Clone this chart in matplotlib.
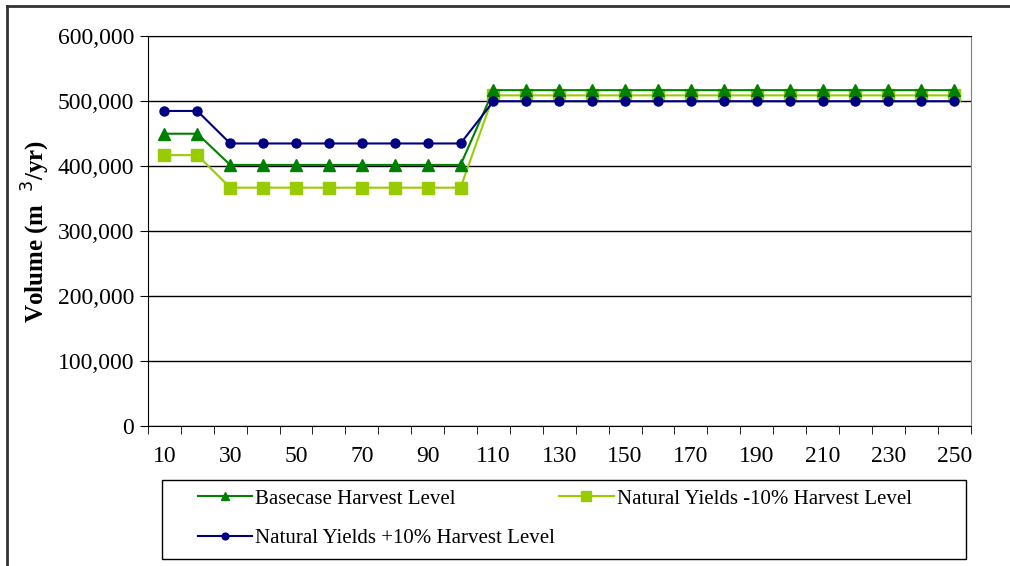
import matplotlib.pyplot as plt
from matplotlib.lines import Line2D
from matplotlib.patches import Rectangle
from matplotlib.ticker import FuncFormatter
import numpy as np

plt.rcParams["font.family"] = ["Liberation Serif", "DejaVu Serif"]

periods = list(range(10, 260, 10))
basecase = [450000, 450000] + [402000] * 8 + [517000] * 15
minus_10 = [417000, 417000] + [367000] * 8 + [509000] * 15
plus_10 = [485000, 485000] + [435000] * 8 + [500000] * 15
series_names = [
    "Basecase Harvest Level",
    "Natural Yields -10% Harvest Level",
    "Natural Yields +10% Harvest Level",
]
y_ticks = [0, 100000, 200000, 300000, 400000, 500000, 600000]

W, H = 1010, 566
fig = plt.figure(figsize=(W / 100, H / 100), dpi=100)
ax = fig.add_axes([0.1465, 0.247, 0.8145, 0.689])

pos = np.arange(len(periods))
l_base, = ax.plot(pos, basecase, color="#008000", lw=1.5, marker="^", ms=8,
                  label=series_names[0], zorder=3)
l_minus, = ax.plot(pos, minus_10, color="#99cc00", lw=1.5, marker="s", ms=9,
                   label=series_names[1], zorder=2)
l_plus, = ax.plot(pos, plus_10, color="#000080", lw=1.5, marker="o", ms=6.5,
                  label=series_names[2], zorder=4)

ax.set_xlim(-0.5, len(periods) - 0.5)
ax.set_ylim(0, 600000)
ax.set_yticks(y_ticks)
ax.yaxis.set_major_formatter(FuncFormatter(lambda v, p: f"{int(v):,}"))
ax.grid(axis="y", color="black", lw=1)
ax.set_axisbelow(True)

# category labels every other period, tick marks between categories
ax.set_xticks(pos[::2])
ax.set_xticklabels([str(p) for p in periods[::2]])
ax.set_xticks(np.arange(-0.5, len(periods), 1), minor=True)
ax.tick_params(axis="x", which="major", length=0, pad=14, labelsize=17)
ax.tick_params(axis="x", which="minor", length=6, direction="out", color="black")
ax.tick_params(axis="y", length=6, direction="out", labelsize=17, pad=4)

for side in ["left", "bottom", "top"]:
    ax.spines[side].set_color("black")
ax.spines["right"].set_color("#808080")

ax.set_ylabel("Volume (m  $^{3}$/yr)", fontsize=18, fontweight="bold", labelpad=4)

# legend box drawn separately so the entries can sit where we want them
fig.add_artist(Rectangle((162 / W, 1 - 559 / H), (966 - 162) / W, (559 - 480) / H,
                         transform=fig.transFigure, fill=False,
                         edgecolor="black", lw=1))
leg = fig.legend(
    handles=[l_base, l_plus, l_minus],
    labels=[series_names[0], series_names[2], series_names[1]],
    ncol=2,
    loc="upper left",
    bbox_to_anchor=(198 / W, 1 - 489 / H),
    fontsize=15,
    frameon=False,
    handlelength=2.6,
    markerscale=0.75,
    borderpad=0,
    labelspacing=0.95,
    handletextpad=0.15,
    columnspacing=0.2,
    borderaxespad=0,
)

# outer frame of the chart object
fig.add_artist(Line2D([0.0065, 0.0065], [0, 0.99], color="#333333", lw=2,
                      transform=fig.transFigure))
fig.add_artist(Line2D([0.0065, 1.0], [0.99, 0.99], color="#333333", lw=2,
                      transform=fig.transFigure))

fig.savefig("out.png", dpi=100)
